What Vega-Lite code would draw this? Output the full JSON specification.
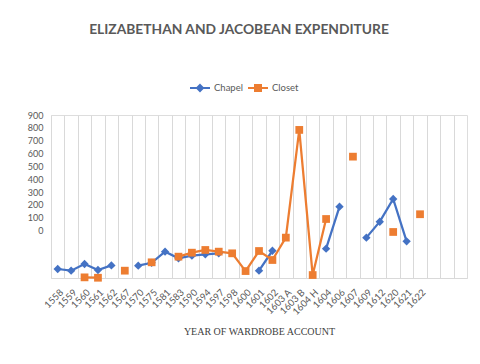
{
  "$schema": "https://vega.github.io/schema/vega-lite/v6.json",
  "width": 416,
  "height": 163,
  "autosize": "none",
  "padding": {"left": 51, "top": 115, "right": 13, "bottom": 86},
  "background": "white",
  "title": {
    "text": "ELIZABETHAN AND JACOBEAN EXPENDITURE",
    "font": "Lato",
    "fontSize": 13.8,
    "fontWeight": "bold",
    "color": "#595959",
    "anchor": "middle",
    "frame": "group",
    "dx": -20,
    "offset": 40
  },
  "data": {
    "values": [
      {"year": "1558", "series": "Chapel", "value": -298},
      {"year": "1559", "series": "Chapel", "value": -311},
      {"year": "1560", "series": "Chapel", "value": -259},
      {"year": "1561", "series": "Chapel", "value": -306},
      {"year": "1562", "series": "Chapel", "value": -270},
      {"year": "1567", "series": "Chapel", "value": null},
      {"year": "1570", "series": "Chapel", "value": -272},
      {"year": "1575", "series": "Chapel", "value": -250},
      {"year": "1581", "series": "Chapel", "value": -163},
      {"year": "1583", "series": "Chapel", "value": -215},
      {"year": "1590", "series": "Chapel", "value": -194},
      {"year": "1594", "series": "Chapel", "value": -184},
      {"year": "1597", "series": "Chapel", "value": -176},
      {"year": "1598", "series": "Chapel", "value": null},
      {"year": "1600", "series": "Chapel", "value": null},
      {"year": "1601", "series": "Chapel", "value": -311},
      {"year": "1602", "series": "Chapel", "value": -156},
      {"year": "1603 A", "series": "Chapel", "value": null},
      {"year": "1603 B", "series": "Chapel", "value": null},
      {"year": "1604 H", "series": "Chapel", "value": null},
      {"year": "1604", "series": "Chapel", "value": -140},
      {"year": "1606", "series": "Chapel", "value": 187},
      {"year": "1607", "series": "Chapel", "value": null},
      {"year": "1609", "series": "Chapel", "value": -54},
      {"year": "1612", "series": "Chapel", "value": 70},
      {"year": "1620", "series": "Chapel", "value": 247},
      {"year": "1621", "series": "Chapel", "value": -83},
      {"year": "1622", "series": "Chapel", "value": null},
      {"year": "1558", "series": "Closet", "value": null},
      {"year": "1559", "series": "Closet", "value": null},
      {"year": "1560", "series": "Closet", "value": -363},
      {"year": "1561", "series": "Closet", "value": -366},
      {"year": "1562", "series": "Closet", "value": null},
      {"year": "1567", "series": "Closet", "value": -311},
      {"year": "1570", "series": "Closet", "value": null},
      {"year": "1575", "series": "Closet", "value": -246},
      {"year": "1581", "series": "Closet", "value": null},
      {"year": "1583", "series": "Closet", "value": -202},
      {"year": "1590", "series": "Closet", "value": -171},
      {"year": "1594", "series": "Closet", "value": -150},
      {"year": "1597", "series": "Closet", "value": -163},
      {"year": "1598", "series": "Closet", "value": -176},
      {"year": "1600", "series": "Closet", "value": -314},
      {"year": "1601", "series": "Closet", "value": -158},
      {"year": "1602", "series": "Closet", "value": -228},
      {"year": "1603 A", "series": "Closet", "value": -54},
      {"year": "1603 B", "series": "Closet", "value": 784},
      {"year": "1604 H", "series": "Closet", "value": -345},
      {"year": "1604", "series": "Closet", "value": 91},
      {"year": "1606", "series": "Closet", "value": null},
      {"year": "1607", "series": "Closet", "value": 576},
      {"year": "1609", "series": "Closet", "value": null},
      {"year": "1612", "series": "Closet", "value": null},
      {"year": "1620", "series": "Closet", "value": -10},
      {"year": "1621", "series": "Closet", "value": null},
      {"year": "1622", "series": "Closet", "value": 128}
    ]
  },
  "encoding": {
    "x": {
      "field": "year",
      "type": "ordinal",
      "scale": {
        "type": "point",
        "padding": 0.5,
        "domain": ["1558","1559","1560","1561","1562","1567","1570","1575","1581","1583","1590","1594","1597","1598","1600","1601","1602","1603 A","1603 B","1604 H","1604","1606","1607","1609","1612","1620","1621","1622","~1","~2","~3"]
      },
      "axis": {
        "title": "YEAR OF WARDROBE ACCOUNT",
        "titleFont": "Liberation Serif",
        "titleFontSize": 10,
        "titleFontWeight": "normal",
        "titleColor": "#404040",
        "titlePadding": 10,
        "labelExpr": "indexof(datum.value, '~') === 0 ? '' : datum.value",
        "labelAngle": -45,
        "labelFont": "Lato",
        "labelFontSize": 9.5,
        "labelColor": "#595959",
        "labelPadding": 9,
        "labelOffset": 6.71,
        "tickOffset": -6.71,
        "ticks": false,
        "grid": true,
        "gridColor": "#d9d9d9",
        "gridWidth": 1,
        "domainColor": "#d9d9d9",
        "domainWidth": 1
      }
    },
    "y": {
      "field": "value",
      "type": "quantitative",
      "scale": {"domain": [-368, 900], "nice": false, "zero": false},
      "axis": {
        "title": null,
        "values": [0, 100, 200, 300, 400, 500, 600, 700, 800, 900],
        "grid": false,
        "domain": false,
        "ticks": false,
        "labelFont": "Lato",
        "labelFontSize": 9,
        "labelColor": "#595959",
        "labelPadding": 8
      }
    },
    "color": {
      "field": "series",
      "type": "nominal",
      "scale": {"domain": ["Chapel", "Closet"], "range": ["#4472C4", "#ED7D31"]},
      "legend": null
    },
    "order": {"value": null}
  },
  "layer": [
    {
      "mark": {"type": "line", "strokeWidth": 2.25, "invalid": "break-paths-show-domains"},
      "encoding": {
        "color": {
          "field": "series",
          "type": "nominal",
          "scale": {"domain": ["Chapel", "Closet"], "range": ["#4472C4", "#ED7D31"]},
          "legend": {
            "title": null,
            "orient": "none",
            "direction": "horizontal",
            "legendX": 138,
            "legendY": -38,
            "symbolSize": 400,
            "symbolType": "stroke",
            "symbolStrokeWidth": 2,
            "labelFont": "Lato",
            "labelFontSize": 9.5,
            "labelColor": "#595959",
            "labelOffset": 3,
            "columnPadding": 1,
            "encode": {
              "symbols": {
                "update": {
                  "shape": {"signal": "datum.value === 'Chapel' ? 'M-1,0H1M0,-0.3L0.3,0L0,0.3L-0.3,0Z' : 'M-1,0H1M-0.3,-0.3H0.3V0.3H-0.3Z'"},
                  "fill": {"signal": "datum.value === 'Chapel' ? '#4472C4' : '#ED7D31'"},
                  "stroke": {"signal": "datum.value === 'Chapel' ? '#4472C4' : '#ED7D31'"},
                  "strokeWidth": {"value": 2},
                  "opacity": {"value": 1}
                }
              }
            }
          }
        }
      }
    },
    {
      "transform": [{"filter": "datum.series === 'Chapel'"}],
      "mark": {"type": "point", "shape": "diamond", "size": 70, "filled": true, "opacity": 1, "strokeWidth": 0}
    },
    {
      "transform": [{"filter": "datum.series === 'Closet'"}],
      "mark": {"type": "point", "shape": "square", "size": 60, "filled": true, "opacity": 1, "strokeWidth": 0}
    }
  ]
}
